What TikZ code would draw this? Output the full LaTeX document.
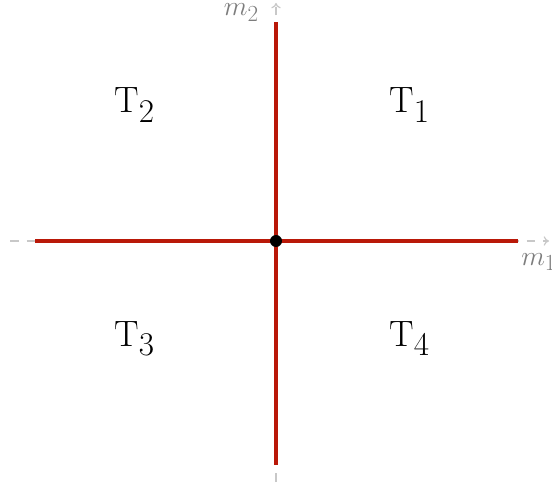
\documentclass[tikz,border=0pt]{standalone}
\usetikzlibrary{arrows.meta}
\DeclareMathSizes{27.5}{27.5}{23}{18}
\DeclareMathSizes{20.5}{20.5}{16}{12}
\definecolor{axisgray}{RGB}{200,200,200}
\definecolor{labgray}{RGB}{125,125,125}
\definecolor{bdred}{RGB}{185,24,8}
\tikzset{
  axisline/.style={axisgray, line width=0.9pt, dash pattern=on 6.5pt off 6pt, -{To[length=4pt,width=7pt]}},
  bound/.style={bdred, line width=3pt},
  region/.style={font=\fontsize{27.5}{32}\selectfont, inner sep=0pt},
  axlabel/.style={labgray, font=\fontsize{20.5}{24}\selectfont, inner sep=0pt}
}
\begin{document}
\begin{tikzpicture}[x=0.75pt,y=0.75pt]
\useasboundingbox (0,0) rectangle (552,482);
% axes
\coordinate (xl) at (10,241);
\coordinate (xr) at (549,241);
\coordinate (yb) at (276,0);
\coordinate (yt) at (276,479);
\draw[axisline] (xl) -- (xr);
\draw[axisline] (yb) -- (yt);
% boundaries
\coordinate (O) at (276,241);
\coordinate (L) at (35,241);
\coordinate (R) at (518,241);
\coordinate (T) at (276,460);
\coordinate (B) at (276,17);
\draw[bound] (O) -- (L);
\draw[bound] (O) -- (R);
\draw[bound] (O) -- (T);
\draw[bound] (O) -- (B);
\node[fill=black, circle, inner sep=0pt, minimum size=9pt] (dot) at (O) {};
% labels
\node[axlabel, anchor=base west] (m1) at (521,217) {$m_1$};
\node[axlabel, anchor=base east] (m2) at (259,466) {$m_2$};
\node[region, anchor=base west] (t1) at (389,369) {T$_1$};
\node[region, anchor=base west] (t2) at (114,369) {T$_2$};
\node[region, anchor=base west] (t3) at (114,136) {T$_3$};
\node[region, anchor=base west] (t4) at (389,136) {T$_4$};
\end{tikzpicture}
\end{document}
